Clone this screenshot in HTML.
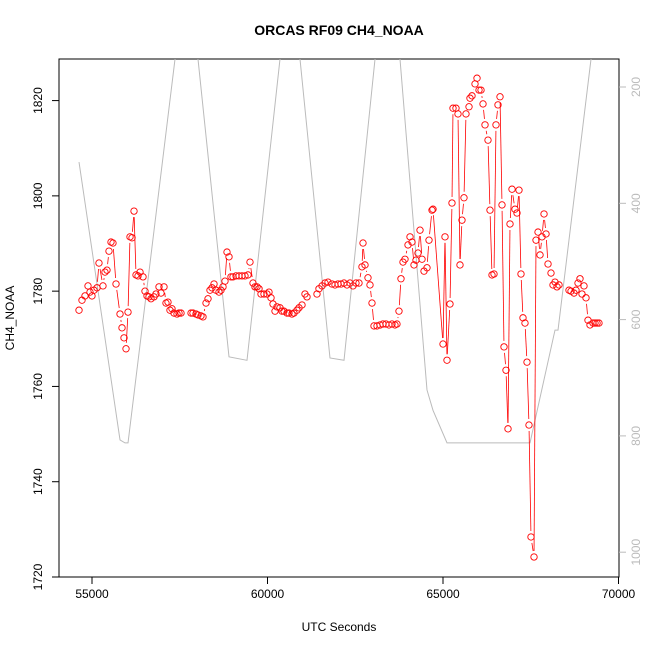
<!DOCTYPE html>
<html><head><meta charset="utf-8"><style>
body{margin:0;background:#fff}
svg text{font-family:"Liberation Sans",sans-serif}
</style></head><body>
<svg id="chart" width="650" height="650" xmlns="http://www.w3.org/2000/svg">
<defs><clipPath id="clip"><rect x="59" y="59" width="560" height="518"/></clipPath></defs>
<text x="339" y="35" text-anchor="middle" font-size="14" font-weight="bold">ORCAS RF09 CH4_NOAA</text>
<text x="339" y="631" text-anchor="middle" font-size="12">UTC Seconds</text>
<text transform="translate(14,318) rotate(-90)" text-anchor="middle" font-size="12">CH4_NOAA</text>
<rect x="59" y="59" width="560" height="518" fill="none" stroke="#000" stroke-width="1"/>
<g id="axes"></g>
<g clip-path="url(#clip)"><g id="alt"></g><g id="ch4"></g></g>
</svg>
<script>
const timeVals=[54630,54715,54800,54886,54943,55000,55057,55142,55199,55313,55370,55427,55484,55541,55598,55684,55798,55855,55912,55969,56026,56083,56140,56197,56254,56311,56368,56453,56510,56567,56624,56681,56766,56823,56909,56966,57051,57108,57165,57222,57279,57336,57422,57479,57536,
57700,
57821,57877,57963,58020,58105,58162,58248,58305,58362,58419,58476,58533,58618,58675,58732,58789,58846,58903,58960,59017,59103,59188,59274,59359,59444,59501,59587,59644,59701,59758,59815,59900,59986,60043,60100,60157,60214,60271,60356,60413,60470,60555,60612,60698,60755,60840,60897,60983,61068,61125,
61250,
61410,61467,61553,61638,61724,61838,61923,62009,62094,62180,62265,62350,62436,62521,62607,62692,62721,62778,62863,62920,62977,63034,63120,63205,63290,63376,63461,63547,63632,63689,63746,63803,63860,63917,64003,64060,64117,64174,64231,64288,64345,64402,64459,64544,64601,64687,64715,65000,65057,65114,65199,65256,65285,65370,65427,65484,65541,65598,65655,65741,65769,65826,65912,65969,66026,66083,66140,66197,66282,66339,66396,66453,66510,66567,66624,66681,66738,66795,66852,66909,66966,67051,67108,67165,67222,67279,67336,67393,67450,67507,67593,67650,67707,67764,67821,67878,67935,67992,68077,68134,68191,68248,68305,
68450,
68590,68647,68732,68789,68846,68903,68960,69017,69074,69131,69188,69274,69331,69388,69444];
const ch4Vals=[1776.0,1778.1,1779.0,1781.1,1779.8,1779.0,1780.2,1780.7,1785.9,1781.1,1784.0,1784.4,1788.4,1790.3,1790.1,1781.5,1775.2,1772.3,1770.2,1767.9,1775.6,1791.4,1791.2,1796.8,1783.4,1783.2,1784.0,1783.0,1780.0,1779.0,1778.8,1778.4,1778.8,1779.4,1780.9,1779.6,1780.9,1777.5,1777.7,1776.0,1776.3,1775.4,1775.2,1775.4,1775.4,
null,
1775.4,1775.4,1775.2,1775.0,1774.8,1774.6,1777.5,1778.4,1780.2,1780.7,1781.5,1780.2,1779.8,1780.2,1780.9,1782.1,1788.2,1787.2,1783.0,1783.0,1783.2,1783.2,1783.2,1783.2,1783.4,1786.1,1781.7,1780.9,1780.9,1780.5,1779.4,1779.4,1779.4,1779.8,1778.6,1777.3,1775.8,1776.7,1776.5,1775.8,1775.8,1775.4,1775.4,1775.2,1775.4,1776.0,1776.5,1777.1,1779.4,1778.8,
null,
1779.4,1780.5,1781.1,1781.7,1781.9,1781.5,1781.3,1781.5,1781.5,1781.7,1781.3,1781.7,1781.1,1781.7,1781.7,1785.1,1790.1,1785.5,1782.8,1781.3,1777.5,1772.7,1772.7,1772.9,1773.1,1773.1,1772.9,1773.1,1772.9,1773.1,1775.8,1782.6,1786.1,1786.7,1789.7,1791.4,1790.3,1785.5,1786.5,1788.0,1792.8,1786.7,1784.2,1784.9,1790.7,1797.0,1797.2,1768.9,1791.4,1765.5,1777.3,1798.5,1818.4,1818.4,1817.2,1785.5,1794.9,1799.6,1817.2,1818.7,1820.5,1821.0,1823.5,1824.7,1822.2,1822.2,1819.3,1814.9,1811.7,1797.0,1783.4,1783.6,1814.9,1819.1,1820.8,1798.1,1768.3,1763.4,1751.1,1794.1,1801.4,1797.2,1796.4,1801.2,1783.6,1774.4,1773.3,1765.1,1751.9,1728.4,1724.2,1790.7,1792.4,1787.6,1791.4,1796.2,1792.0,1785.7,1783.8,1781.3,1781.9,1780.9,1781.3,
null,
1780.2,1780.0,1779.6,1780.2,1781.7,1782.6,1779.4,1781.1,1778.6,1773.9,1772.9,1773.3,1773.3,1773.3,1773.3];
const altTime=[54630,55798,55940,56026,57365,57700,58020,58903,59416,60356,60640,60926,61780,62180,63063,63420,63775,64544,64715,65114,67479,68191,68277,69217,69274];
const altPres=[329,807,812,812,152,60,152,664,670,152,60,152,666,670,152,60,152,721,756,812,812,618,618,152,128];
const xTicks=[55000,60000,65000,70000];
const yTicks=[1720,1740,1760,1780,1800,1820];
const pTicks=[200,400,600,800,1000];

const NS="http://www.w3.org/2000/svg";
const X=t=>92+(t-55000)/28.49;
const Y=v=>577-(v-1720)/0.2099;
const P=p=>87+(p-200)*0.5815;
function mk(tag,attrs,parent){const e=document.createElementNS(NS,tag);for(const k in attrs)e.setAttribute(k,attrs[k]);parent.appendChild(e);return e;}
const axes=document.getElementById('axes');
xTicks.forEach(t=>{
  const l=mk('line',{x1:X(t),x2:X(t),y1:577,y2:584,stroke:'#000'},axes);
  
  
  const tx=mk('text',{x:X(t),y:598,'text-anchor':'middle','font-size':12},axes);tx.textContent=t;
  
  
});
mk('line',{x1:X(55000),x2:X(70000),y1:577,y2:577,stroke:'#000'},axes);
yTicks.forEach(v=>{
  const l=mk('line',{x1:52,x2:59,y1:Y(v),y2:Y(v),stroke:'#000'},axes);
  
  
  const tx=mk('text',{transform:`translate(42,${Y(v)}) rotate(-90)`,'text-anchor':'middle','font-size':12},axes);tx.textContent=v;
  
  
});
pTicks.forEach(p=>{
  const l=mk('line',{x1:619,x2:626,y1:P(p),y2:P(p),stroke:'#bbb'},axes);
  
  
  const tx=mk('text',{transform:`translate(640,${P(p)}) rotate(-90)`,'text-anchor':'middle','font-size':12,fill:'#bbb'},axes);tx.textContent=p;
  
  
});
const alt=document.getElementById('alt');
const ap=mk('polyline',{points:altTime.map((t,i)=>X(t)+','+P(altPres[i])).join(' '),fill:'none',stroke:'#bbb','stroke-width':1},alt);


const g=document.getElementById('ch4');
for(let i=1;i<timeVals.length;i++){
  if(ch4Vals[i]==null||ch4Vals[i-1]==null)continue;
  const x1=X(timeVals[i-1]),y1=Y(ch4Vals[i-1]),x2=X(timeVals[i]),y2=Y(ch4Vals[i]);
  const d=Math.hypot(x2-x1,y2-y1),r=6;
  if(d<=2*r)continue;
  const ux=(x2-x1)/d,uy=(y2-y1)/d;
  const s=mk('line',{x1:x1+ux*r,y1:y1+uy*r,x2:x2-ux*r,y2:y2-uy*r,stroke:'#f00','stroke-width':0.8},g);
  
  
}
timeVals.forEach((t,i)=>{
  if(ch4Vals[i]==null)return;
  const c=mk('circle',{cx:X(t),cy:Y(ch4Vals[i]),r:3.2,fill:'none',stroke:'#f00','stroke-width':0.9},g);
  
  
});
</script>
</body></html>
